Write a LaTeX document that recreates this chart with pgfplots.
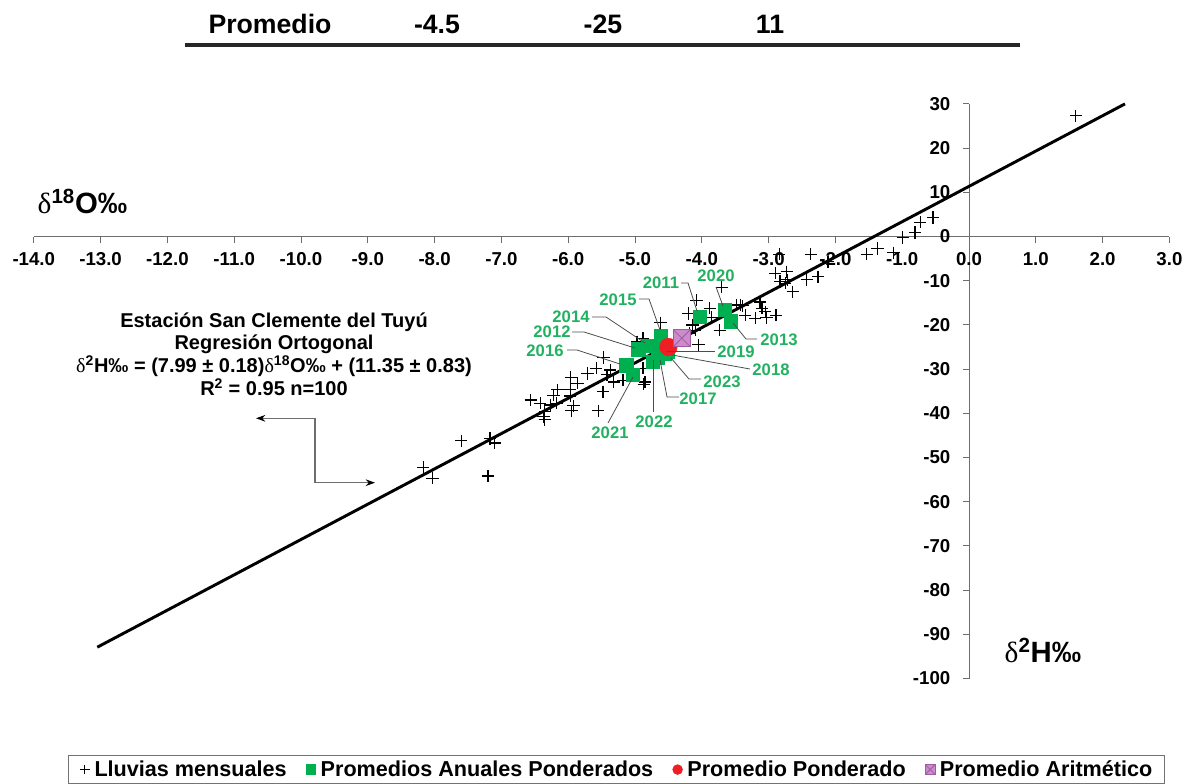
\documentclass[border=0pt]{standalone}
\usepackage{pgfplots}
\pgfplotsset{compat=1.18}
\usepackage{fontspec}
\setmainfont{Liberation Sans}
\newfontfamily\seriffont{Liberation Serif}
\usetikzlibrary{arrows.meta}
\definecolor{sqgreen}{RGB}{0,176,80}
\definecolor{lblgreen}{RGB}{34,177,96}
\definecolor{ptred}{RGB}{238,30,36}
\definecolor{purp}{RGB}{204,140,204}
\definecolor{purpd}{RGB}{160,90,160}
\definecolor{axgray}{RGB}{110,110,110}

\pgfdeclareplotmark{sqx}{%
  \pgfpathrectangle{\pgfqpoint{-\pgfplotmarksize}{-\pgfplotmarksize}}{\pgfqpoint{2\pgfplotmarksize}{2\pgfplotmarksize}}%
  \pgfusepathqfillstroke
  \pgfpathmoveto{\pgfqpoint{-\pgfplotmarksize}{-\pgfplotmarksize}}%
  \pgfpathlineto{\pgfqpoint{\pgfplotmarksize}{\pgfplotmarksize}}%
  \pgfpathmoveto{\pgfqpoint{-\pgfplotmarksize}{\pgfplotmarksize}}%
  \pgfpathlineto{\pgfqpoint{\pgfplotmarksize}{-\pgfplotmarksize}}%
  \pgfusepathqstroke}

\pgfplotstableread{
x y
1.60 27.3
-0.54 4.3
-0.73 3.2
-0.81 0.9
-0.99 -0.2
-1.13 -3.7
-1.37 -2.7
-1.53 -4.0
-2.11 -5.7
-2.37 -4.0
-2.84 -4.0
-2.90 -8.3
-2.73 -8.0
-2.83 -10.2
-2.72 -9.8
-2.75 -10.6
-2.64 -12.5
-2.43 -9.8
-2.26 -9.1
-3.70 -11.5
-3.48 -15.5
-3.42 -15.5
-3.39 -15.7
-3.35 -17.8
-3.13 -14.8
-3.10 -16.2
-3.05 -17.0
-3.20 -18.5
-3.03 -18.3
-2.89 -17.8
-3.88 -16.2
-3.85 -18.3
-3.73 -21.2
-4.08 -14.4
-4.20 -17.4
-4.14 -20.0
-4.10 -21.2
-4.19 -21.9
-4.05 -24.5
-4.62 -19.5
-4.88 -23.0
-4.97 -23.8
-5.47 -27.4
-5.37 -30.2
-4.88 -29.8
-4.85 -32.9
-4.87 -33.4
-5.58 -29.8
-5.71 -31.0
-5.42 -31.3
-5.32 -32.9
-5.18 -32.5
-5.96 -31.9
-5.86 -33.2
-5.97 -34.6
-6.16 -34.7
-6.22 -35.9
-5.48 -35.1
-6.56 -37.0
-6.42 -37.7
-6.27 -38.1
-6.17 -37.7
-5.97 -36.1
-5.92 -38.3
-5.95 -39.4
-6.35 -39.6
-6.37 -40.8
-6.35 -41.4
-5.55 -39.4
-7.17 -45.7
-7.60 -46.2
-7.10 -46.7
-8.17 -52.2
-8.03 -54.7
-7.20 -54.2
}\lluvias

\pgfplotstableread{
x y
-4.03 -18.1
-3.66 -16.6
-3.57 -19.2
-4.61 -22.4
-4.80 -24.7
-4.95 -25.5
-5.13 -29.1
-5.03 -31.3
-4.73 -28.4
-4.66 -27.3
-4.55 -26.6
-4.51 -26.1
-4.60 -25.0
}\anuales

\begin{document}
\begin{tikzpicture}
\begin{axis}[
  x=50.1pt, y=3.315pt,
  xmin=-14, xmax=3, ymin=-100, ymax=30,
  axis lines=middle,
  axis line style={-, draw=axgray, line width=0.75pt},
  every inner x axis line/.append style={-},
  every inner y axis line/.append style={-},
  enlargelimits=false,
  clip=false,
  xtick={-14,-13,...,3},
  ytick={-100,-90,...,30},
  tick align=outside,
  major tick length=4.5pt,
  tick style={axgray, line width=0.75pt},
  hide obscured x ticks=false, hide obscured y ticks=false,
  x tick label style={/pgf/number format/.cd, fixed, fixed zerofill, precision=1, assume math mode=true, /tikz/.cd, font=\bfseries\fontsize{14}{16}\selectfont, yshift=-3.8pt},
  y tick label style={/pgf/number format/assume math mode=true, font=\bfseries\fontsize{14}{16}\selectfont, xshift=-6pt},
  legend columns=4,
  legend cell align=left,
  legend style={at={(0.513,-0.133)}, anchor=north, draw=black!55, line width=0.6pt,
    font=\bfseries\fontsize{16.2}{18}\selectfont, inner xsep=7pt, inner ysep=2pt,
    /tikz/every even column/.append style={column sep=11pt}},
  legend image code/.code={\path (0pt,0pt) (10pt,0pt); \draw[#1,mark size=3.6pt] plot coordinates {(5pt,0pt)};},
]
\addplot[only marks, mark=+, mark size=4.6pt, mark options={line width=0.9pt}, black] table {\lluvias};
\addlegendentry{Lluvias mensuales}
\addplot[only marks, mark=square*, mark size=5pt, color=sqgreen] table {\anuales};
\addlegendentry{Promedios Anuales Ponderados}
\addplot[only marks, mark=*, mark size=6.6pt, color=ptred] coordinates {(-4.5,-25)};
\addlegendentry{Promedio Ponderado}
\addplot[only marks, mark=sqx, mark size=6.2pt, mark options={fill=purp, draw=purpd, line width=0.6pt}] coordinates {(-4.3,-23.0)};
\addlegendentry{Promedio Aritmético}
\addplot[black, line width=2.2pt, forget plot] coordinates {(-13.05,-92.92) (2.335,30)};
\end{axis}
\begin{scope}[shift={(-25.35pt,508.875pt)}, x=0.75pt, y=-0.75pt]
  % top table fragment
  \node[font=\bfseries\fontsize{20}{24}\selectfont] at (270,24) {Promedio};
  \node[font=\bfseries\fontsize{20}{24}\selectfont] at (437,24) {-4.5};
  \node[font=\bfseries\fontsize{20}{24}\selectfont] at (603,24) {-25};
  \node[font=\bfseries\fontsize{20}{24}\selectfont] at (770,24) {11};
  \draw[line width=3.2pt, black!85] (185,45) -- (1020,45);
  % annotation
  \node[align=center, font=\bfseries\fontsize{15}{16.9}\selectfont] at (274,354)
    {Estación San Clemente del Tuyú\\ Regresión Ortogonal\\
     {\seriffont\mdseries δ}\textsuperscript{2}H‰ = (7.99 ± 0.18){\seriffont\mdseries δ}\textsuperscript{18}O‰ + (11.35 ± 0.83)\\
     R\textsuperscript{2} = 0.95 n=100};
  \draw[axgray, line width=0.8pt, {Stealth[black,length=7pt,width=5pt]}-{Stealth[black,length=7pt,width=5pt]}]
    (256,418.3) -- (315,418.3) -- (315,482.7) -- (375,482.7);
  % axis titles
  \node[anchor=west, font=\bfseries\fontsize{22}{24}\selectfont] at (33,201) {{\seriffont\mdseries δ}\textsuperscript{18}O‰};
  \node[anchor=west, font=\bfseries\fontsize{22}{24}\selectfont] at (1000,650) {{\seriffont\mdseries δ}\textsuperscript{2}H‰};
  % leader lines
  \begin{scope}[black!70, line width=0.6pt]
    \draw (681,283) -- (688,283) -- (697,311);
    \draw (716,287) -- (723,306);
    \draw (639,299) -- (649,299) -- (660,330);
    \draw (592,317) -- (606,317) -- (645,343);
    \draw (572,332) -- (584,332) -- (635,348);
    \draw (567,350) -- (577,350) -- (620,364);
    \draw (608,423) -- (633,377);
    \draw (653.5,412) -- (653.5,360);
    \draw (679,397) -- (667,397) -- (660,360);
    \draw (701,379) -- (689,379) -- (671,358);
    \draw (750,369) -- (672,355);
    \draw (715,351) -- (667,351);
    \draw (757,339) -- (746,339) -- (733,323);
  \end{scope}
  % year labels
  \begin{scope}[every node/.style={font=\bfseries\fontsize{12.5}{14}\selectfont, text=lblgreen, inner sep=0pt}]
    \node at (661,283) {2011};
    \node at (716,276) {2020};
    \node at (618,300) {2015};
    \node at (571,317) {2014};
    \node at (552,332) {2012};
    \node at (545,351) {2016};
    \node at (610,433) {2021};
    \node at (654,422) {2022};
    \node at (698,399) {2017};
    \node at (722,382) {2023};
    \node at (771,370) {2018};
    \node at (736,352) {2019};
    \node at (779,340) {2013};
  \end{scope}
\end{scope}
\pgfresetboundingbox
\path[use as bounding box, shift={(-25.35pt,508.875pt)}, x=0.75pt, y=-0.75pt] (0,0) rectangle (1194,783);
\end{tikzpicture}
\end{document}
